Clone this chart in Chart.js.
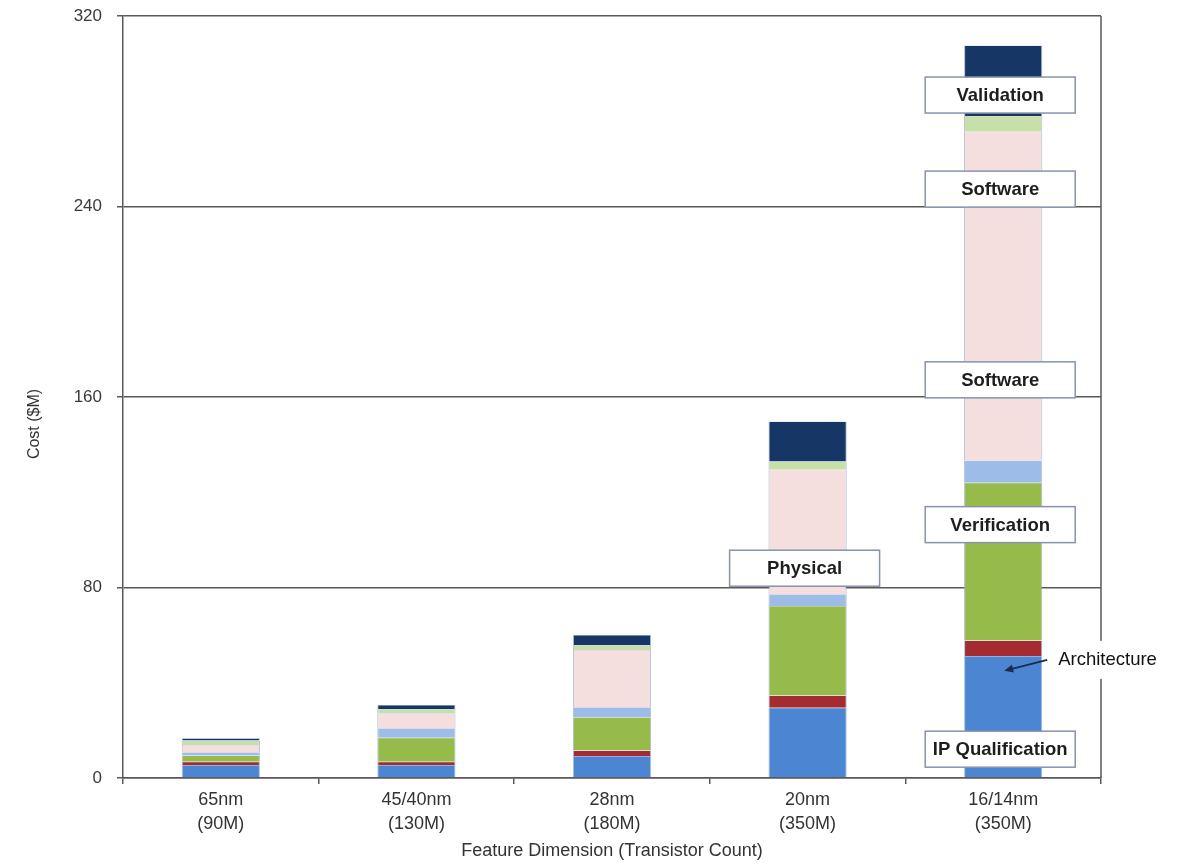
<!DOCTYPE html>
<html>
<head>
<meta charset="utf-8">
<script src="https://cdn.jsdelivr.net/npm/chart.js@4/dist/chart.umd.min.js"></script>
<style>
html,body{margin:0;padding:0;background:#ffffff;}
canvas{display:block;}
</style>
</head>
<body>
<canvas id="c" width="1184" height="864"></canvas>
<script>
// ---- data ----
const categories = [['65nm','(90M)'], ['45/40nm','(130M)'], ['28nm','(180M)'], ['20nm','(350M)'], ['16/14nm','(350M)']];
const ipQualification = [5.5, 5.5, 9.2, 29.5, 51.2];
const architecture    = [1.3, 1.3, 2.3, 5.1, 6.5];
const verification    = [2.6, 10.1, 14.0, 37.6, 66.3];
const physical        = [1.4, 4.0, 4.2, 5.0, 9.3];
const software        = [3.1, 6.3, 24.1, 52.3, 138.1];
const prototype       = [1.8, 1.8, 2.1, 3.4, 6.6];
const validation      = [1.0, 1.7, 4.2, 16.8, 29.6];
const yTicks = [0, 80, 160, 240, 320];
const yTitle = 'Cost ($M)';
const xTitle = 'Feature Dimension (Transistor Count)';

// callout labels (anchored in data coordinates: category index, value)
const calloutText     = ['Validation', 'Software', 'Software', 'Verification', 'Physical', 'IP Qualification'];
const calloutCategory = [4, 4, 4, 4, 3, 4];
const calloutValue    = [286.8, 247.3, 167.2, 106.4, 88.1, 12.1];
const arrowText = 'Architecture';
const arrowCategory = 4;
const arrowTipValue = 45;
const arrowTextValue = 49.6;

// ---- styles ----
const lineColor = '#595959';
const segBorder = 'rgba(150,172,208,0.8)';
const colors = {
  ip: '#4C86D3', arch: '#A52B31', verif: '#97BB4A', phys: '#9DBDE8',
  soft: '#F4DFDE', proto: '#C7DFA8', valid: '#163766'
};

function ds(label, data, color) {
  return { label, data, backgroundColor: color, borderColor: segBorder,
           borderWidth: { left: 1, right: 1, top: 0.5, bottom: 0 }, borderSkipped: false,
           barPercentage: 0.4, categoryPercentage: 1.0, stack: 's' };
}

const overlay = {
  id: 'overlay',
  beforeDatasetsDraw(chart) {
    const {ctx, chartArea: a} = chart;
    ctx.save();
    ctx.strokeStyle = lineColor; ctx.lineWidth = 1.5;
    ctx.beginPath(); ctx.moveTo(a.right, a.top); ctx.lineTo(a.right, a.bottom); ctx.stroke();
    ctx.restore();
  },
  afterDraw(chart) {
    const {ctx, scales: {x, y}} = chart;
    ctx.save();
    // y title
    ctx.save();
    ctx.translate(35, 424);
    ctx.rotate(-Math.PI / 2);
    ctx.font = '16px "Liberation Sans", Arial, sans-serif';
    ctx.fillStyle = '#333';
    ctx.textAlign = 'center'; ctx.textBaseline = 'middle';
    ctx.fillText(yTitle, 0, 0);
    ctx.restore();

    // callout boxes
    const bw = 150, bh = 36;
    for (let i = 0; i < calloutText.length; i++) {
      const cx = x.getPixelForValue(calloutCategory[i]) - 3;
      const cy = y.getPixelForValue(calloutValue[i]);
      ctx.fillStyle = '#ffffff';
      ctx.strokeStyle = '#8694aa';
      ctx.lineWidth = 1.5;
      ctx.fillRect(cx - bw / 2, cy - bh / 2, bw, bh);
      ctx.strokeRect(cx - bw / 2, cy - bh / 2, bw, bh);
      ctx.fillStyle = '#1e1e1e';
      ctx.font = 'bold 18.5px "Liberation Sans", Arial, sans-serif';
      ctx.textAlign = 'center'; ctx.textBaseline = 'middle';
      ctx.fillText(calloutText[i], cx, cy + 1);
    }

    // Architecture arrow + text
    const bx = x.getPixelForValue(arrowCategory);
    const ty = y.getPixelForValue(arrowTextValue);
    const tipY = y.getPixelForValue(arrowTipValue);
    ctx.font = '18.5px "Liberation Sans", Arial, sans-serif';
    const tw = ctx.measureText(arrowText).width;
    ctx.fillStyle = '#ffffff';
    ctx.fillRect(bx + 51, ty - 19, tw + 10, 38);
    ctx.fillStyle = '#111';
    ctx.textAlign = 'left'; ctx.textBaseline = 'middle';
    ctx.fillText(arrowText, bx + 55, ty);
    const sx = bx + 44, sy = ty, ex = bx + 1, ey = tipY;
    ctx.strokeStyle = '#1b2c4e'; ctx.fillStyle = '#1b2c4e'; ctx.lineWidth = 2;
    const ang = Math.atan2(ey - sy, ex - sx);
    ctx.beginPath(); ctx.moveTo(sx, sy); ctx.lineTo(ex - 6 * Math.cos(ang), ey - 6 * Math.sin(ang)); ctx.stroke();
    ctx.beginPath();
    ctx.moveTo(ex, ey);
    ctx.lineTo(ex - 9 * Math.cos(ang) + 4 * Math.sin(ang), ey - 9 * Math.sin(ang) - 4 * Math.cos(ang));
    ctx.lineTo(ex - 9 * Math.cos(ang) - 4 * Math.sin(ang), ey - 9 * Math.sin(ang) + 4 * Math.cos(ang));
    ctx.closePath(); ctx.fill();
    ctx.restore();
  }
};

new Chart(document.getElementById('c'), {
  type: 'bar',
  data: {
    labels: categories,
    datasets: [
      ds('IP Qualification', ipQualification, colors.ip),
      ds('Architecture', architecture, colors.arch),
      ds('Verification', verification, colors.verif),
      ds('Physical', physical, colors.phys),
      ds('Software', software, colors.soft),
      ds('Prototype', prototype, colors.proto),
      ds('Validation', validation, colors.valid)
    ]
  },
  options: {
    responsive: false,
    animation: false,
    devicePixelRatio: 1,
    layout: { padding: { left: 0, right: 83, top: 16, bottom: 0 } },
    plugins: { legend: { display: false }, tooltip: { enabled: false } },
    scales: {
      x: {
        stacked: true,
        afterFit: s => { s.height = 86; },
        grid: { offset: true, drawOnChartArea: false, drawTicks: true, tickLength: 6, color: lineColor, lineWidth: 1.5 },
        border: { display: true, color: lineColor, width: 1.5 },
        ticks: { color: '#333', padding: 4, maxRotation: 0, autoSkip: false,
                 font: { family: '"Liberation Sans", Arial, sans-serif', size: 18, lineHeight: 1.33 } },
        title: { display: true, text: xTitle, color: '#333', padding: { top: 0, bottom: 2 },
                 font: { family: '"Liberation Sans", Arial, sans-serif', size: 18, lineHeight: 1.2 } }
      },
      y: {
        stacked: true,
        min: 0, max: 320,
        afterFit: s => { s.width = 123; s.paddingTop = 9; s.paddingBottom = 9; },
        afterBuildTicks: s => { s.ticks = yTicks.map(v => ({ value: v })); },
        grid: { drawOnChartArea: true, drawTicks: true, tickLength: 6, color: lineColor, lineWidth: 1.5 },
        border: { display: true, color: lineColor, width: 1.5 },
        ticks: { color: '#3a3a3a', padding: 15,
                 font: { family: '"Liberation Sans", Arial, sans-serif', size: 17 } }
      }
    }
  },
  plugins: [overlay]
});
</script>
</body>
</html>
